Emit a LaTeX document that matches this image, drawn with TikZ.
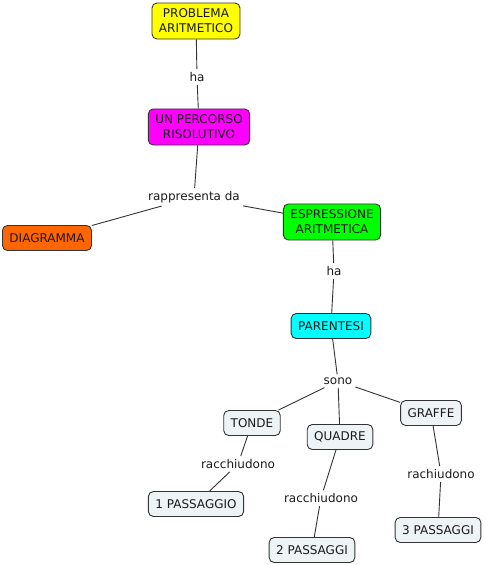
\documentclass[tikz,border=0pt]{standalone}
\usepackage{fontspec}
\setmainfont{DejaVu Sans}
\usepackage{tikz}
\usetikzlibrary{positioning}
\definecolor{cYel}{HTML}{FFFF00}
\definecolor{cMag}{HTML}{FF00FF}
\definecolor{cOra}{HTML}{FF6600}
\definecolor{cGrn}{HTML}{00FF00}
\definecolor{cCya}{HTML}{00FFFF}
\definecolor{cPale}{HTML}{EEF3F5}
\definecolor{cLine}{HTML}{333333}
\definecolor{cText}{HTML}{1A1A1A}
\tikzset{
  map/concept/.style={draw=cLine, line width=0.9pt, rounded corners=5pt,
                      minimum height=25pt, inner xsep=7pt, inner ysep=6pt,
                      align=center, text=cText,
                      font=\fontsize{12}{15}\selectfont},
  map/pale/.style={map/concept, fill=cPale},
  map/link/.style={font=\fontsize{12}{14}\selectfont, text=cText, inner sep=3pt},
  map/line/.style={draw=cLine, line width=0.9pt}
}
\begin{document}
\begin{tikzpicture}[x=1pt, y=-1pt]
  \useasboundingbox (0,0) rectangle (486,565);

  % --- top chain ---
  \node[map/concept, fill=cYel] (prob) at (196,21) {PROBLEMA\\ARITMETICO};
  \node[map/link] (ha1) at (197,77) {ha};
  \node[map/concept, fill=cMag] (perc) at (199,127) {UN PERCORSO\\RISOLUTIVO};
  \node[map/link] (rapp) at (194,197) {rappresenta da};
  \node[map/concept, fill=cOra] (diag) at (47,238) {DIAGRAMMA};
  \node[map/concept, fill=cGrn] (espr) at (332,222) {ESPRESSIONE\\ARITMETICA};
  \node[map/link] (ha2) at (334,271) {ha};
  \node[map/concept, fill=cCya] (par) at (331,326) {PARENTESI};
  \node[map/link] (sono) at (338,381) {sono};

  % --- kinds of brackets ---
  \node[map/pale] (tonde) at (252,423) {TONDE};
  \node[map/pale] (quad) at (340,437) {QUADRE};
  \node[map/pale] (graf) at (431,413) {GRAFFE};
  \node[map/link] (racc1) at (238,464) {racchiudono};
  \node[map/link] (racc2) at (321,498) {racchiudono};
  \node[map/link] (rach) at (441,474) {rachiudono};
  \node[map/pale] (pass1) at (196,504) {1 PASSAGGIO};
  \node[map/pale] (pass2) at (312,550) {2 PASSAGGI};
  \node[map/pale] (pass3) at (438,530) {3 PASSAGGI};

  % --- connectors ---
  \draw[map/line] (prob) -- (ha1);
  \draw[map/line] (ha1) -- (perc);
  \draw[map/line] (perc) -- (rapp);
  \draw[map/line] (rapp) -- (diag);
  \draw[map/line] (rapp) -- (espr);
  \draw[map/line] (espr) -- (ha2);
  \draw[map/line] (ha2) -- (par);
  \draw[map/line] (par) -- (sono);
  \draw[map/line] (sono) -- (tonde);
  \draw[map/line] (sono) -- (quad);
  \draw[map/line] (sono) -- (graf);
  \draw[map/line] (tonde) -- (racc1);
  \draw[map/line] (racc1) -- (pass1);
  \draw[map/line] (quad) -- (racc2);
  \draw[map/line] (racc2) -- (pass2);
  \draw[map/line] (graf) -- (rach);
  \draw[map/line] (rach) -- (pass3);
\end{tikzpicture}
\end{document}
